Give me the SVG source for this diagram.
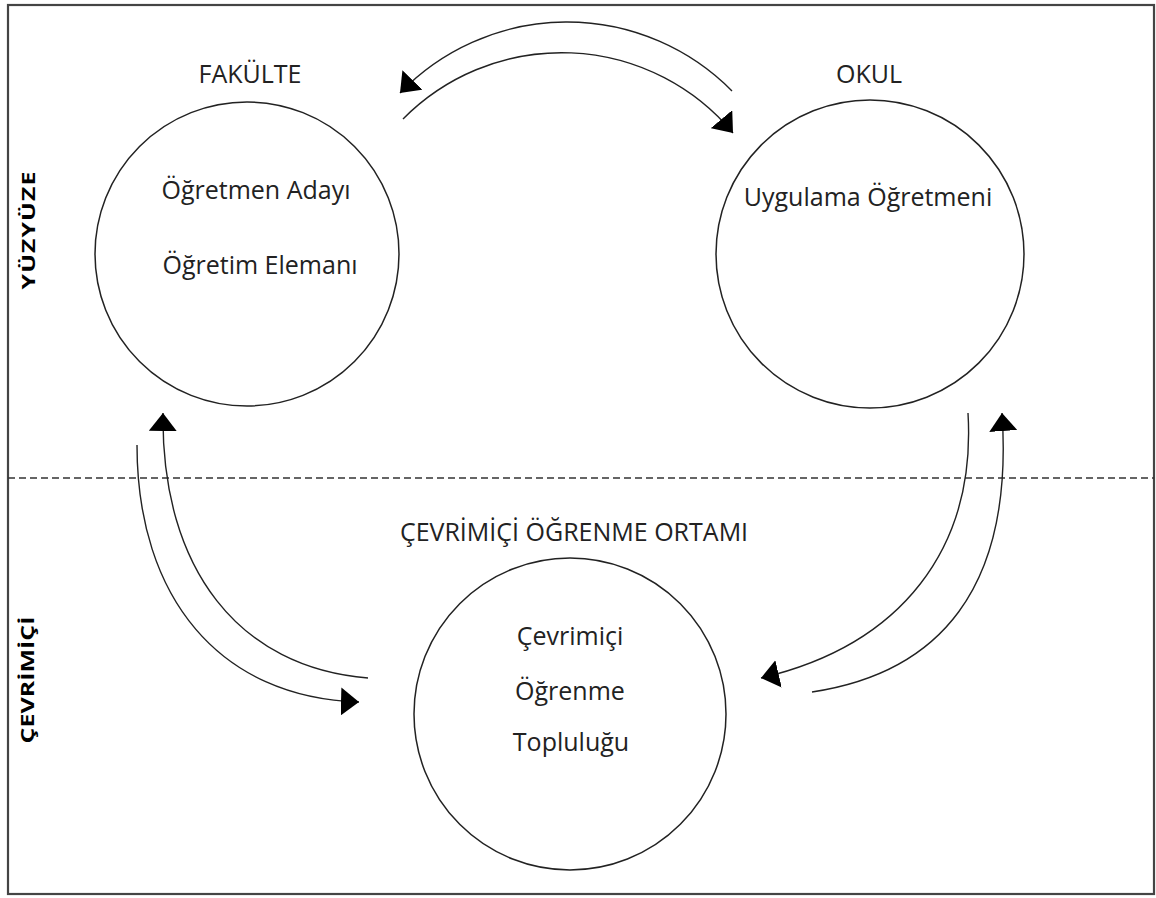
<svg xmlns="http://www.w3.org/2000/svg" width="1156" height="898" viewBox="0 0 1156 898">
  <style>
    .lbl { font-family: "Open Sans", "Noto Sans", sans-serif; font-size: 25px; fill: #222; text-anchor: middle; }
    .side { font-family: "Open Sans", "Noto Sans", sans-serif; font-size: 25px; font-weight: bold; fill: #000; text-anchor: middle; }
    .node { fill: #fff; stroke: #222; stroke-width: 1.5; }
    .conn { fill: none; stroke: #222; stroke-width: 1.4; }
  </style>
  <defs>
    <marker id="arr" markerUnits="userSpaceOnUse" viewBox="0 0 18 28" markerWidth="18" markerHeight="28" refX="18" refY="14" orient="auto">
      <path d="M0,0 L18,14 L0,28 z" fill="#000"/>
    </marker>
  </defs>
  <rect x="8" y="5" width="1146" height="889" fill="#fff" stroke="#444" stroke-width="2.2"/>
  <line x1="8" y1="478" x2="1154" y2="478" stroke="#333" stroke-width="1.5" stroke-dasharray="7 4"/>

  <g id="side-labels">
    <text class="side" letter-spacing="1" transform="translate(35,230) rotate(-90) scale(1,0.7)">YÜZYÜZE</text>
    <text class="side" transform="translate(34,680) rotate(-90) scale(1,0.7)">ÇEVRİMİÇİ</text>
  </g>

  <g id="fakulte">
    <text class="lbl" x="250" y="83">FAKÜLTE</text>
    <circle class="node" cx="247" cy="254" r="152"/>
    <text class="lbl" x="256" y="199">Öğretmen Adayı</text>
    <text class="lbl" x="260" y="274">Öğretim Elemanı</text>
  </g>

  <g id="okul">
    <text class="lbl" x="869" y="83">OKUL</text>
    <circle class="node" cx="870" cy="254" r="154"/>
    <text class="lbl" x="868" y="206">Uygulama Öğretmeni</text>
  </g>

  <g id="cevrimici">
    <text class="lbl" x="574" y="541">ÇEVRİMİÇİ ÖĞRENME ORTAMI</text>
    <circle class="node" cx="570" cy="714" r="156"/>
    <text class="lbl" x="570" y="645">Çevrimiçi</text>
    <text class="lbl" x="570" y="700">Öğrenme</text>
    <text class="lbl" x="571" y="751">Topluluğu</text>
  </g>

  <g id="connectors">
    <path class="conn" d="M732,91 A232,232 0 0 0 400,93" marker-end="url(#arr)"/>
    <path class="conn" d="M403,119 A223,223 0 0 1 733,133" marker-end="url(#arr)"/>
    <path class="conn" d="M368,678 C240,668 161,570 163,413" marker-end="url(#arr)"/>
    <path class="conn" d="M137,445 C137,598 220,698 359,702" marker-end="url(#arr)"/>
    <path class="conn" d="M968,413 C976,548 902,645 761,678" marker-end="url(#arr)"/>
    <path class="conn" d="M812,692 C938,673 1014,590 1002,413" marker-end="url(#arr)"/>
  </g>
</svg>
